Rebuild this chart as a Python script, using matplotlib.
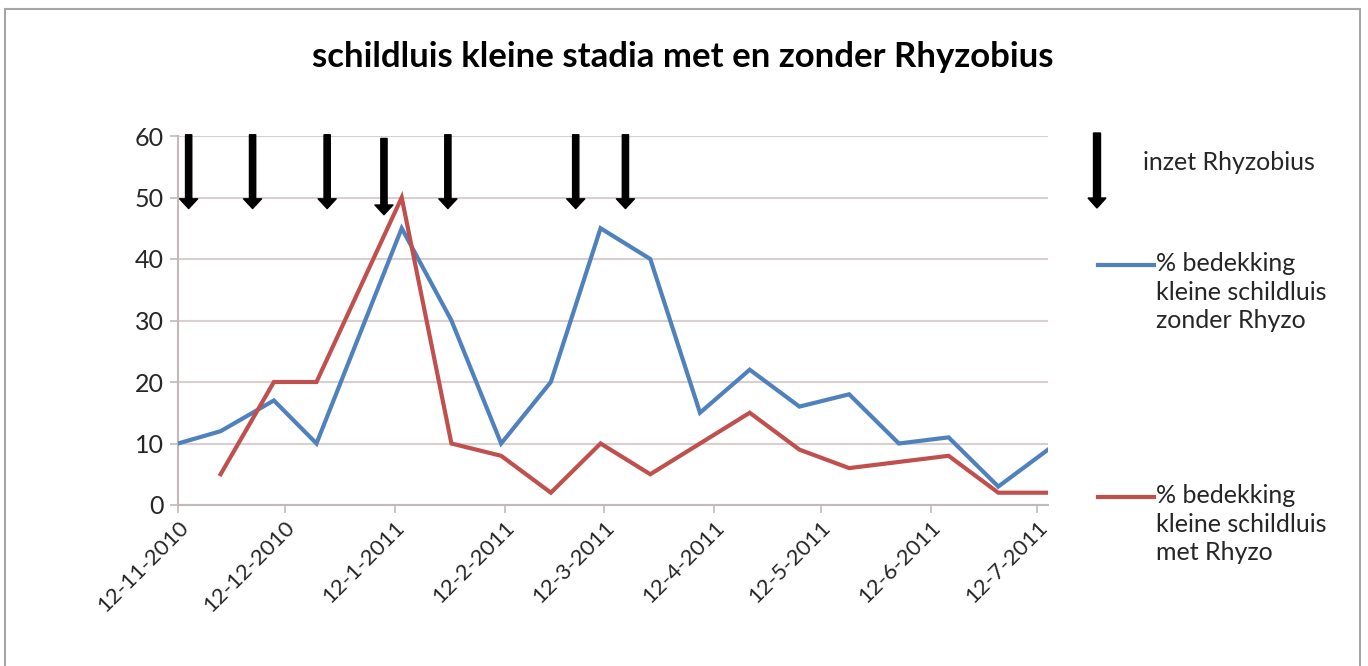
import datetime as dt
import numpy as np
import matplotlib
matplotlib.use("Agg")
from matplotlib import pyplot as plt
from matplotlib.lines import Line2D
from matplotlib.patches import Rectangle, FancyArrow

# sample dates (roughly every two weeks)
dates = [dt.date(2010, 11, 12), dt.date(2010, 11, 24), dt.date(2010, 12, 9),
         dt.date(2010, 12, 21), dt.date(2011, 1, 14), dt.date(2011, 1, 28),
         dt.date(2011, 2, 11), dt.date(2011, 2, 25), dt.date(2011, 3, 11),
         dt.date(2011, 3, 25), dt.date(2011, 4, 8), dt.date(2011, 4, 22),
         dt.date(2011, 5, 6), dt.date(2011, 5, 20), dt.date(2011, 6, 3),
         dt.date(2011, 6, 17), dt.date(2011, 7, 1), dt.date(2011, 7, 15)]
zonder = [10, 12, 17, 10, 45, 30, 10, 20, 45, 40, 15, 22, 16, 18, 10, 11, 3, 9]
met = [np.nan, 5, 20, 20, 50, 10, 8, 2, 10, 5, 10, 15, 9, 6, 7, 8, 2, 2]

# release moments of Rhyzobius
inzet_dates = [dt.date(2010, 11, 15), dt.date(2010, 12, 3), dt.date(2010, 12, 24),
               dt.date(2011, 1, 9), dt.date(2011, 1, 27), dt.date(2011, 3, 4),
               dt.date(2011, 3, 18)]

tick_dates = [dt.date(2010, 11, 12), dt.date(2010, 12, 12), dt.date(2011, 1, 12),
              dt.date(2011, 2, 12), dt.date(2011, 3, 12), dt.date(2011, 4, 12),
              dt.date(2011, 5, 12), dt.date(2011, 6, 12), dt.date(2011, 7, 12)]
tick_labels = ["12-11-2010", "12-12-2010", "12-1-2011", "12-2-2011", "12-3-2011",
               "12-4-2011", "12-5-2011", "12-6-2011", "12-7-2011"]

title = "schildluis kleine stadia met en zonder Rhyzobius"
label_zonder = "% bedekking\nkleine schildluis\nzonder Rhyzo"
label_met = "% bedekking\nkleine schildluis\nmet Rhyzo"
label_inzet = "inzet Rhyzobius"

blue = "#4f81bd"
red = "#c0504d"
grid_col = "#d9cfcf"
axis_col = "#c4b9b9"
text_col = "#262626"

plt.rcParams["font.family"] = ["Lato", "DejaVu Sans"]

W, H = 1368, 666
fig = plt.figure(figsize=(W / 100, H / 100), dpi=100)


def fx(x):
    return x / W


def fy(y):
    return 1 - y / H


# outer frame of the chart area
fig.patches.append(Rectangle((fx(5), fy(700)), fx(1360) - fx(5), fy(9) - fy(700),
                             transform=fig.transFigure, fill=False,
                             edgecolor="#a6a6a6", linewidth=1.5))

ax = fig.add_axes([fx(178), fy(505), fx(1048) - fx(178), fy(136) - fy(505)])

ax.plot(dates, zonder, color=blue, linewidth=3, solid_joinstyle="miter", zorder=3)
ax.plot(dates, met, color=red, linewidth=3, solid_joinstyle="miter", zorder=3)

for i, d in enumerate(inzet_dates):
    tip = 47.2 if i == 3 else 48.2
    top = 59.6 if i == 3 else 60.2
    ax.annotate("", xy=(d, tip), xytext=(d, top),
                arrowprops=dict(facecolor="black", edgecolor="black", width=4.5,
                                headwidth=13, headlength=7, shrink=0),
                annotation_clip=False, zorder=4)

ax.set_ylim(0, 60)
ax.set_yticks(range(0, 61, 10))
ax.set_xlim(dt.date(2010, 11, 12), dt.date(2011, 7, 15))
ax.set_xticks(tick_dates)
ax.set_xticklabels(tick_labels, rotation=45, ha="right", rotation_mode="anchor")

ax.grid(axis="y", color=grid_col, linewidth=1.5)
ax.set_axisbelow(True)
for s in ["top", "right"]:
    ax.spines[s].set_visible(False)
for s in ["left", "bottom"]:
    ax.spines[s].set_color(axis_col)
    ax.spines[s].set_linewidth(1.5)
ax.tick_params(axis="x", direction="out", length=6, width=1.2, color=axis_col,
               labelsize=16, labelcolor=text_col, pad=3)
ax.tick_params(axis="y", direction="out", length=6, width=1.2, color=axis_col,
               labelsize=18, labelcolor=text_col, pad=4)

fig.text(fx(683), fy(57), title, ha="center", va="center", fontsize=25,
         fontweight="bold", color="black")

# legend built by hand, like the original
fig.patches.append(FancyArrow(
    fx(1097), fy(133), 0, fy(208) - fy(133), width=fx(7), head_width=fx(18),
    head_length=fy(198) - fy(208), length_includes_head=True,
    transform=fig.transFigure, color="black"))
fig.text(fx(1143), fy(163), label_inzet, ha="left", va="center", fontsize=18,
         color=text_col)

fig.lines.append(Line2D([fx(1098), fx(1154)], [fy(265), fy(265)], color=blue,
                        linewidth=3, transform=fig.transFigure))
fig.text(fx(1156), fy(252), label_zonder, ha="left", va="top", fontsize=18,
         color=text_col, linespacing=1.3)
fig.lines.append(Line2D([fx(1098), fx(1154)], [fy(497), fy(497)], color=red,
                        linewidth=3, transform=fig.transFigure))
fig.text(fx(1156), fy(484), label_met, ha="left", va="top", fontsize=18,
         color=text_col, linespacing=1.3)

fig.savefig("out.png", dpi=100, facecolor="white")
